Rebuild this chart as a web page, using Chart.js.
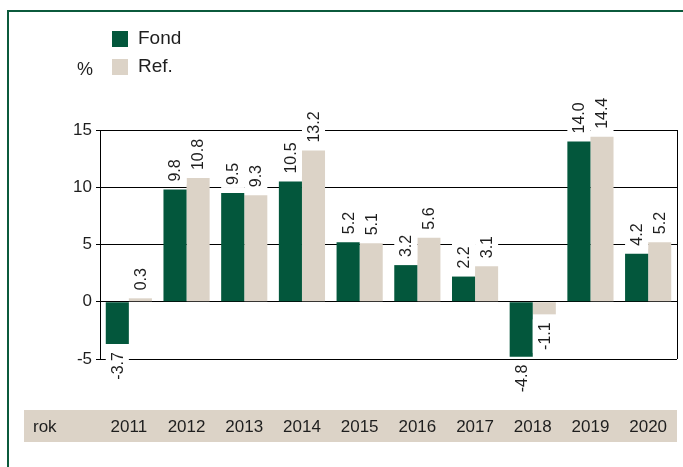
<!DOCTYPE html>
<html>
<head>
<meta charset="utf-8">
<script src="https://cdn.jsdelivr.net/npm/chart.js@4"></script>
<style>
  body { margin: 0; background: #fff; }
  canvas { display: block; }
</style>
</head>
<body>
<canvas id="chart" width="683" height="467"></canvas>
<script>
const years = ["2011", "2012", "2013", "2014", "2015", "2016", "2017", "2018", "2019", "2020"];
const fond = [-3.7, 9.8, 9.5, 10.5, 5.2, 3.2, 2.2, -4.8, 14.0, 4.2];
const ref = [0.3, 10.8, 9.3, 13.2, 5.1, 5.6, 3.1, -1.1, 14.4, 5.2];
const yMin = -5;
const yMax = 15;
const yStep = 5;

const FONT = "Arial, 'Liberation Sans', sans-serif";
const GREEN = "#03573c";
const BEIGE = "#dcd3c7";
const TEXT = "#1e1e1e";

// rámeček, pás s roky, legenda
const decorPlugin = {
  id: "decor",
  beforeDraw(chart) {
    const ctx = chart.ctx;
    ctx.save();
    ctx.fillStyle = "#ffffff";
    ctx.fillRect(0, 0, chart.width, chart.height);

    ctx.strokeStyle = "#0b5a3c";
    ctx.lineWidth = 2;
    ctx.beginPath();
    ctx.moveTo(8, chart.height);
    ctx.lineTo(8, 11);
    ctx.lineTo(chart.width, 11);
    ctx.stroke();

    ctx.fillStyle = BEIGE;
    ctx.fillRect(24, 410, chart.chartArea.right - 24, 32);

    ctx.fillStyle = TEXT;
    ctx.font = "17px " + FONT;
    ctx.textBaseline = "middle";
    ctx.textAlign = "left";
    ctx.fillText("rok", 33, 427);

    ctx.font = "18px " + FONT;
    ctx.fillText("%", 77, 70);

    ctx.font = "19px " + FONT;
    chart.data.datasets.forEach((ds, i) => {
      const y = 31 + i * 28;
      ctx.fillStyle = ds.backgroundColor;
      ctx.fillRect(112, y, 16, 16);
      ctx.fillStyle = TEXT;
      ctx.fillText(ds.label, 138, y + 8);
    });
    ctx.restore();
  },
  afterDatasetsDraw(chart) {
    const ctx = chart.ctx;
    const area = chart.chartArea;
    ctx.save();
    ctx.strokeStyle = "#000";
    ctx.lineWidth = 1;
    ctx.beginPath();
    ctx.moveTo(Math.round(area.right) + 0.5, area.top);
    ctx.lineTo(Math.round(area.right) + 0.5, area.bottom);
    ctx.stroke();

    // popisky hodnot
    ctx.font = "16px " + FONT;
    chart.data.datasets.forEach((ds, di) => {
      const meta = chart.getDatasetMeta(di);
      meta.data.forEach((bar, i) => {
        const v = ds.data[i];
        const txt = v.toFixed(1);
        const w = ctx.measureText(txt).width;
        const top = Math.min(bar.y, bar.base);
        const bottom = Math.max(bar.y, bar.base);
        const gap = 8;
        const half = bar.width / 2;
        ctx.fillStyle = "#ffffff";
        if (v >= 0) {
          ctx.fillRect(bar.x - half, top - gap - w - 3, bar.width, w + 6);
        } else {
          ctx.fillRect(bar.x - half, bottom + gap - 3, bar.width, w + 6);
        }
        ctx.save();
        ctx.fillStyle = TEXT;
        ctx.textBaseline = "middle";
        if (v >= 0) {
          ctx.translate(bar.x, top - gap);
          ctx.rotate(-Math.PI / 2);
          ctx.textAlign = "left";
        } else {
          ctx.translate(bar.x, bottom + gap);
          ctx.rotate(-Math.PI / 2);
          ctx.textAlign = "right";
        }
        ctx.fillText(txt, 0, 1);
        ctx.restore();
      });
    });
    ctx.restore();
  }
};

new Chart(document.getElementById("chart"), {
  type: "bar",
  data: {
    labels: years,
    datasets: [
      { label: "Fond", data: fond, backgroundColor: GREEN },
      { label: "Ref.", data: ref, backgroundColor: BEIGE }
    ]
  },
  options: {
    responsive: false,
    animation: false,
    layout: { padding: { top: 130, right: 6, left: 0, bottom: 0 } },
    datasets: { bar: { barPercentage: 1, categoryPercentage: 0.8 } },
    plugins: { legend: { display: false }, tooltip: { enabled: false } },
    scales: {
      x: {
        grid: { display: false, drawTicks: true, tickLength: 58 },
        border: { display: false },
        ticks: { color: TEXT, font: { family: FONT, size: 17 }, padding: 0, maxRotation: 0, autoSkip: false },
        afterFit(s) { s.height = 108; }
      },
      y: {
        min: yMin,
        max: yMax,
        ticks: { stepSize: yStep, color: TEXT, font: { family: FONT, size: 17 }, padding: 4 },
        grid: { color: "#000", lineWidth: 1, tickLength: 4, tickColor: "#000" },
        border: { display: true, color: "#000" },
        afterFit(s) { s.width = 100; }
      }
    }
  },
  plugins: [decorPlugin]
});
</script>
</body>
</html>
